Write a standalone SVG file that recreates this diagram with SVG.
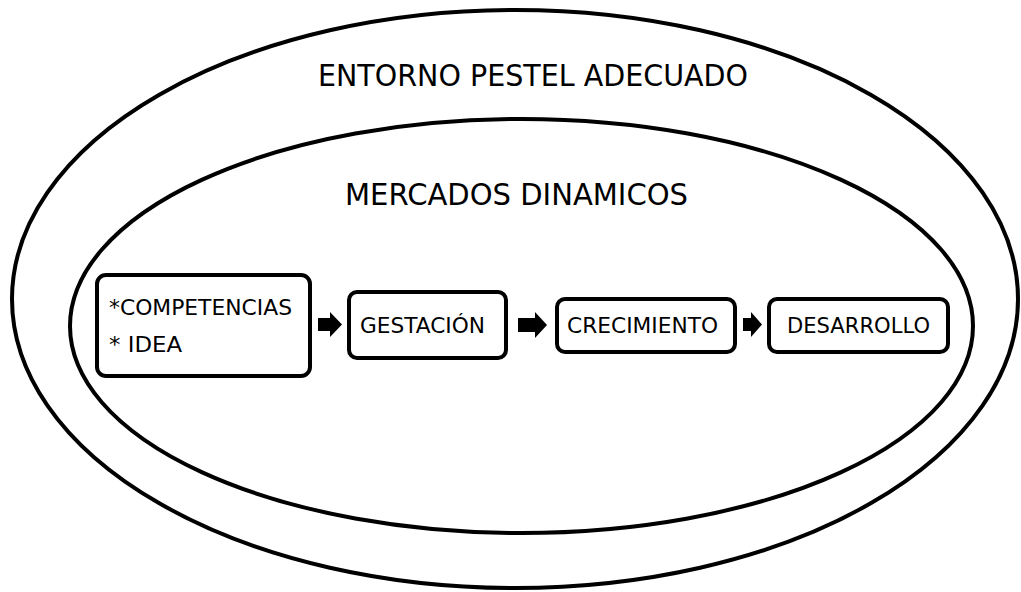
<svg xmlns="http://www.w3.org/2000/svg" width="1021" height="592" viewBox="0 0 1021 592">
<style>
.ring{fill:none;stroke:#000;stroke-width:4}
.box{fill:#fff;stroke:#000;stroke-width:4}
.t{font-family:"DejaVu Sans","Liberation Sans",sans-serif;fill:#000}
.big{font-size:30px}
.sm{font-size:22px}
.arr{fill:#000}
</style>
<rect width="1021" height="592" fill="#fff"/>
<g id="entorno">
<ellipse class="ring" cx="515" cy="299" rx="503" ry="289"/>
<text class="t big" x="533" y="86" text-anchor="middle" textLength="430" lengthAdjust="spacingAndGlyphs">ENTORNO PESTEL ADECUADO</text>
</g>
<g id="mercados">
<ellipse class="ring" cx="521.5" cy="326" rx="451.5" ry="207"/>
<text class="t big" x="516.5" y="205" text-anchor="middle" textLength="343" lengthAdjust="spacingAndGlyphs">MERCADOS DINAMICOS</text>
</g>
<g id="competencias">
<rect class="box" x="97" y="275" width="213" height="101" rx="9"/>
<text class="t sm" x="109" y="315" textLength="183" lengthAdjust="spacingAndGlyphs">*COMPETENCIAS</text>
<text class="t sm" x="109" y="352" textLength="73" lengthAdjust="spacingAndGlyphs">* IDEA</text>
</g>
<g id="gestacion">
<rect class="box" x="349" y="292" width="157" height="66" rx="8"/>
<text class="t sm" x="360" y="333" textLength="125" lengthAdjust="spacingAndGlyphs">GESTACIÓN</text>
</g>
<g id="crecimiento">
<rect class="box" x="557" y="299" width="178" height="53" rx="8"/>
<text class="t sm" x="567" y="333" textLength="151" lengthAdjust="spacingAndGlyphs">CRECIMIENTO</text>
</g>
<g id="desarrollo">
<rect class="box" x="769" y="299" width="179" height="53" rx="8"/>
<text class="t sm" x="787" y="333" textLength="143" lengthAdjust="spacingAndGlyphs">DESARROLLO</text>
</g>
<g id="connectors">
<polygon class="arr" points="318,318 330,318 330,312 342,324.5 330,337 330,331 318,331"/>
<polygon class="arr" points="518,318 535,318 535,312 547,325 535,338 535,332 518,332"/>
<polygon class="arr" points="743,318 751,318 751,312 762,324.5 751,337 751,331 743,331"/>
</g>
</svg>
